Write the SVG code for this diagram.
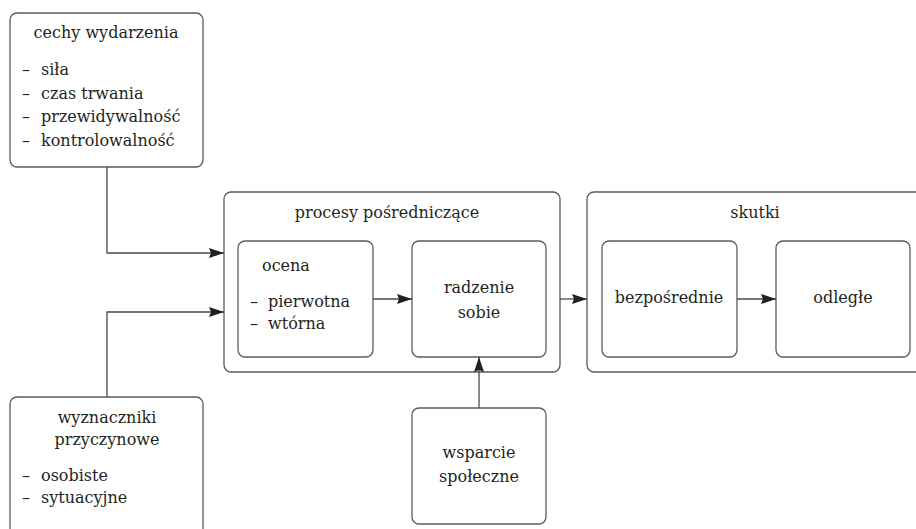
<svg xmlns="http://www.w3.org/2000/svg" width="916" height="529" viewBox="0 0 916 529">
  <style>
    .box { fill: #ffffff; stroke: #5b5b5b; stroke-width: 1.3; }
    .line { fill: none; stroke: #4a4a4a; stroke-width: 1.3; }
    text { font-family: "DejaVu Serif", "Liberation Serif", serif; font-size: 16px; fill: #231f20; }
    .c { text-anchor: middle; }
  </style>
  <defs>
    <marker id="arrow" markerUnits="userSpaceOnUse" markerWidth="15" markerHeight="11" refX="15" refY="5.5" orient="auto">
      <path d="M0,0.5 L15,5.5 L0,10.5 L2,5.5 Z" fill="#231f20"/>
    </marker>
  </defs>

  <!-- outer containers -->
  <g id="procesy">
    <rect class="box" x="224" y="192" width="336" height="180" rx="7"/>
    <text class="c" x="387" y="218">procesy pośredniczące</text>
  </g>
  <g id="skutki">
    <rect class="box" x="587" y="192" width="340" height="180" rx="7"/>
    <text class="c" x="755" y="218">skutki</text>
  </g>

  <g id="cechy">
    <rect class="box" x="10" y="13" width="193" height="154" rx="7"/>
    <text class="c" x="106" y="38">cechy wydarzenia</text>
    <text x="22" y="75">–</text><text x="41" y="75">siła</text>
    <text x="22" y="99">–</text><text x="41" y="99">czas trwania</text>
    <text x="22" y="122">–</text><text x="41" y="122">przewidywalność</text>
    <text x="22" y="146">–</text><text x="41" y="146">kontrolowalność</text>
  </g>

  <g id="wyznaczniki">
    <rect class="box" x="10" y="397" width="193" height="160" rx="7"/>
    <text class="c" x="107" y="423">wyznaczniki</text>
    <text class="c" x="107" y="445">przyczynowe</text>
    <text x="22" y="481">–</text><text x="41" y="481">osobiste</text>
    <text x="22" y="503">–</text><text x="41" y="503">sytuacyjne</text>
  </g>

  <g id="ocena">
    <rect class="box" x="238" y="241" width="135" height="116" rx="7"/>
    <text x="262" y="271">ocena</text>
    <text x="250" y="307">–</text><text x="268" y="307">pierwotna</text>
    <text x="250" y="329">–</text><text x="268" y="329">wtórna</text>
  </g>

  <g id="radzenie">
    <rect class="box" x="412" y="241" width="134" height="116" rx="7"/>
    <text class="c" x="479" y="293">radzenie</text>
    <text class="c" x="479" y="318">sobie</text>
  </g>

  <g id="bezposrednie">
    <rect class="box" x="602" y="241" width="135" height="116" rx="7"/>
    <text class="c" x="669" y="303">bezpośrednie</text>
  </g>

  <g id="odlegle">
    <rect class="box" x="776" y="241" width="134" height="116" rx="7"/>
    <text class="c" x="843" y="303">odległe</text>
  </g>

  <g id="wsparcie">
    <rect class="box" x="412" y="408" width="134" height="116" rx="7"/>
    <text class="c" x="479" y="458">wsparcie</text>
    <text class="c" x="479" y="482">społeczne</text>
  </g>

  <g id="connectors">
    <polyline class="line" points="107,167 107,253 224,253" marker-end="url(#arrow)"/>
    <polyline class="line" points="107,397 107,312 224,312" marker-end="url(#arrow)"/>
    <line class="line" x1="373" y1="299" x2="412" y2="299" marker-end="url(#arrow)"/>
    <line class="line" x1="560" y1="299" x2="587" y2="299" marker-end="url(#arrow)"/>
    <line class="line" x1="737" y1="299" x2="776" y2="299" marker-end="url(#arrow)"/>
    <line class="line" x1="479" y1="408" x2="479" y2="357" marker-end="url(#arrow)"/>
  </g>
</svg>
